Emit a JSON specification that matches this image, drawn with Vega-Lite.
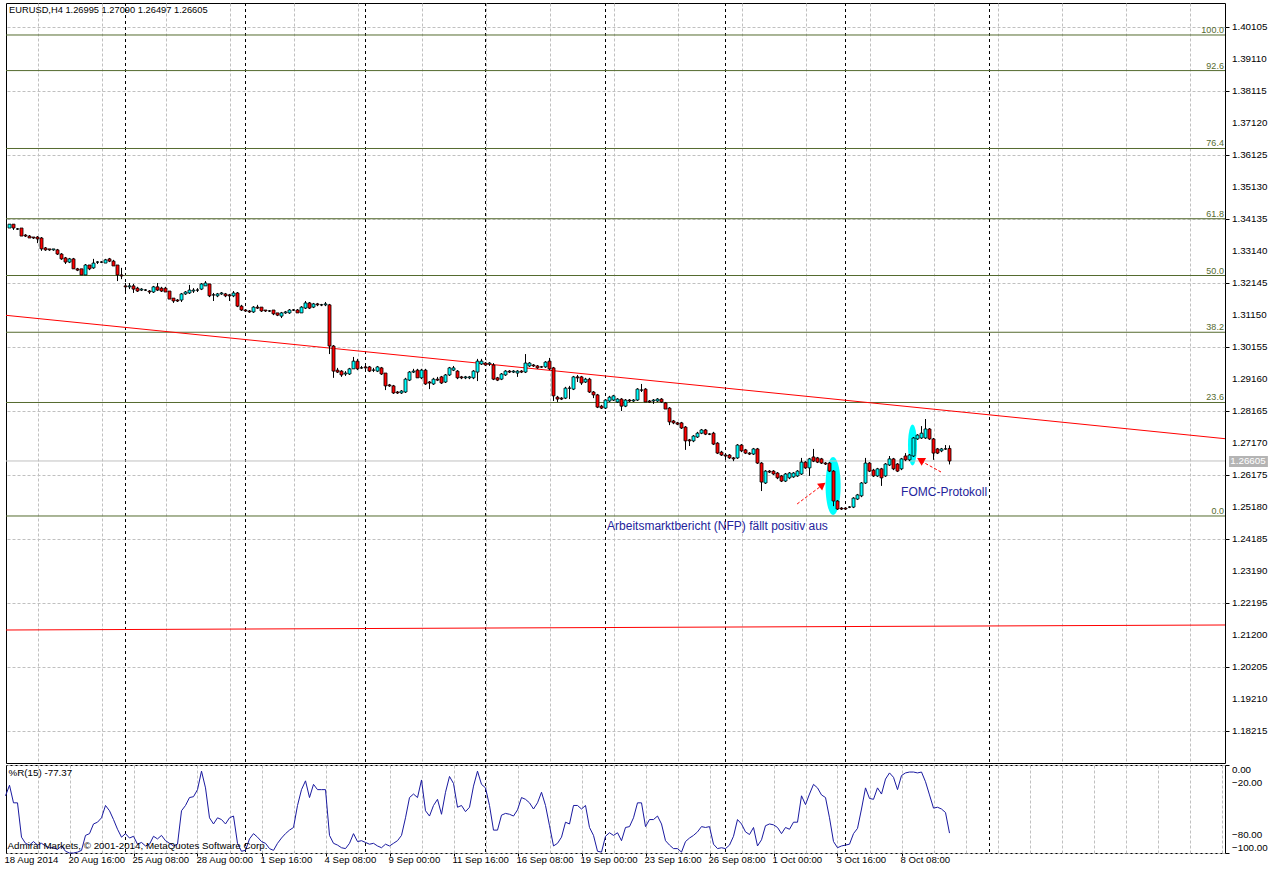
{
"$schema":"https://vega.github.io/schema/vega-lite/v6.json",
"background":"white",
"padding":{"left":3,"top":2,"right":0,"bottom":0},
"spacing":0,
"config":{
 "view":{"stroke":"#000000","strokeWidth":1},
 "font":"Liberation Sans",
 "axis":{"tickColor":"#000000","gridColor":"#c0c0c0","gridDash":[3,2],"domain":false,"labels":false}
},
"datasets":{
 "seps":[{"i":30},{"i":60},{"i":90},{"i":120},{"i":150},{"i":180},{"i":210},{"i":246}],
 "yt":[{"v":1.18215},{"v":1.19210},{"v":1.20205},{"v":1.21200},{"v":1.22195},{"v":1.23190},{"v":1.24185},{"v":1.25180},{"v":1.26175},{"v":1.27170},{"v":1.28165},{"v":1.29160},{"v":1.30155},{"v":1.31150},{"v":1.32145},{"v":1.33140},{"v":1.34135},{"v":1.35130},{"v":1.36125},{"v":1.37120},{"v":1.38115},{"v":1.39110},{"v":1.40105}],
 "xl":[{"i":0,"t":"18 Aug 2014"},{"i":16,"t":"20 Aug 16:00"},{"i":32,"t":"25 Aug 08:00"},{"i":48,"t":"28 Aug 00:00"},{"i":64,"t":"1 Sep 16:00"},{"i":80,"t":"4 Sep 08:00"},{"i":96,"t":"9 Sep 00:00"},{"i":112,"t":"11 Sep 16:00"},{"i":128,"t":"16 Sep 08:00"},{"i":144,"t":"19 Sep 00:00"},{"i":160,"t":"23 Sep 16:00"},{"i":176,"t":"26 Sep 08:00"},{"i":192,"t":"1 Oct 00:00"},{"i":208,"t":"3 Oct 16:00"},{"i":224,"t":"8 Oct 08:00"}],
 "fib":[{"lvl":"0.0","p":1.24894},{"lvl":"23.6","p":1.28424},{"lvl":"38.2","p":1.30608},{"lvl":"50.0","p":1.32373},{"lvl":"61.8","p":1.34139},{"lvl":"76.4","p":1.36323},{"lvl":"92.6","p":1.38746},{"lvl":"100.0","p":1.39853}],
 "candles":[
{"i":0,"o":1.3391,"h":1.3394,"l":1.3388,"c":1.3391},
{"i":1,"o":1.3385,"h":1.3397,"l":1.3385,"c":1.3397},
{"i":2,"o":1.3397,"h":1.3397,"l":1.3379,"c":1.3385},
{"i":3,"o":1.3382,"h":1.3385,"l":1.3379,"c":1.3382},
{"i":4,"o":1.3385,"h":1.3385,"l":1.3360,"c":1.3360},
{"i":5,"o":1.3363,"h":1.3366,"l":1.3357,"c":1.3360},
{"i":6,"o":1.3360,"h":1.3363,"l":1.3354,"c":1.3354},
{"i":7,"o":1.3357,"h":1.3357,"l":1.3351,"c":1.3354},
{"i":8,"o":1.3357,"h":1.3360,"l":1.3338,"c":1.3351},
{"i":9,"o":1.3354,"h":1.3357,"l":1.3314,"c":1.3320},
{"i":10,"o":1.3323,"h":1.3326,"l":1.3314,"c":1.3317},
{"i":11,"o":1.3320,"h":1.3320,"l":1.3314,"c":1.3317},
{"i":12,"o":1.3317,"h":1.3320,"l":1.3314,"c":1.3320},
{"i":13,"o":1.3317,"h":1.3320,"l":1.3301,"c":1.3304},
{"i":14,"o":1.3304,"h":1.3307,"l":1.3286,"c":1.3289},
{"i":15,"o":1.3292,"h":1.3295,"l":1.3273,"c":1.3279},
{"i":16,"o":1.3279,"h":1.3292,"l":1.3276,"c":1.3289},
{"i":17,"o":1.3289,"h":1.3292,"l":1.3258,"c":1.3258},
{"i":18,"o":1.3258,"h":1.3261,"l":1.3251,"c":1.3254},
{"i":19,"o":1.3258,"h":1.3258,"l":1.3239,"c":1.3239},
{"i":20,"o":1.3239,"h":1.3273,"l":1.3239,"c":1.3270},
{"i":21,"o":1.3270,"h":1.3270,"l":1.3254,"c":1.3258},
{"i":22,"o":1.3261,"h":1.3289,"l":1.3258,"c":1.3276},
{"i":23,"o":1.3279,"h":1.3282,"l":1.3273,"c":1.3279},
{"i":24,"o":1.3279,"h":1.3282,"l":1.3276,"c":1.3279},
{"i":25,"o":1.3276,"h":1.3289,"l":1.3276,"c":1.3286},
{"i":26,"o":1.3289,"h":1.3292,"l":1.3279,"c":1.3282},
{"i":27,"o":1.3282,"h":1.3286,"l":1.3267,"c":1.3267},
{"i":28,"o":1.3270,"h":1.3270,"l":1.3220,"c":1.3239},
{"i":29,"o":1.3239,"h":1.3261,"l":1.3226,"c":1.3236},
{"i":30,"o":1.3205,"h":1.3214,"l":1.3183,"c":1.3202},
{"i":31,"o":1.3202,"h":1.3214,"l":1.3195,"c":1.3205},
{"i":32,"o":1.3205,"h":1.3211,"l":1.3183,"c":1.3195},
{"i":33,"o":1.3198,"h":1.3202,"l":1.3186,"c":1.3189},
{"i":34,"o":1.3192,"h":1.3198,"l":1.3189,"c":1.3195},
{"i":35,"o":1.3192,"h":1.3195,"l":1.3189,"c":1.3192},
{"i":36,"o":1.3189,"h":1.3192,"l":1.3180,"c":1.3186},
{"i":37,"o":1.3186,"h":1.3205,"l":1.3183,"c":1.3202},
{"i":38,"o":1.3202,"h":1.3214,"l":1.3189,"c":1.3192},
{"i":39,"o":1.3198,"h":1.3202,"l":1.3186,"c":1.3189},
{"i":40,"o":1.3198,"h":1.3202,"l":1.3186,"c":1.3186},
{"i":41,"o":1.3189,"h":1.3189,"l":1.3164,"c":1.3164},
{"i":42,"o":1.3167,"h":1.3167,"l":1.3152,"c":1.3158},
{"i":43,"o":1.3161,"h":1.3164,"l":1.3155,"c":1.3158},
{"i":44,"o":1.3161,"h":1.3183,"l":1.3155,"c":1.3180},
{"i":45,"o":1.3180,"h":1.3189,"l":1.3177,"c":1.3186},
{"i":46,"o":1.3183,"h":1.3208,"l":1.3180,"c":1.3192},
{"i":47,"o":1.3189,"h":1.3198,"l":1.3183,"c":1.3192},
{"i":48,"o":1.3192,"h":1.3198,"l":1.3186,"c":1.3192},
{"i":49,"o":1.3195,"h":1.3214,"l":1.3192,"c":1.3211},
{"i":50,"o":1.3205,"h":1.3220,"l":1.3205,"c":1.3214},
{"i":51,"o":1.3211,"h":1.3211,"l":1.3170,"c":1.3174},
{"i":52,"o":1.3177,"h":1.3183,"l":1.3158,"c":1.3177},
{"i":53,"o":1.3174,"h":1.3183,"l":1.3170,"c":1.3180},
{"i":54,"o":1.3180,"h":1.3186,"l":1.3177,"c":1.3183},
{"i":55,"o":1.3180,"h":1.3183,"l":1.3170,"c":1.3174},
{"i":56,"o":1.3177,"h":1.3180,"l":1.3158,"c":1.3174},
{"i":57,"o":1.3174,"h":1.3189,"l":1.3170,"c":1.3183},
{"i":58,"o":1.3183,"h":1.3186,"l":1.3139,"c":1.3142},
{"i":59,"o":1.3142,"h":1.3146,"l":1.3127,"c":1.3130},
{"i":60,"o":1.3130,"h":1.3133,"l":1.3124,"c":1.3127},
{"i":61,"o":1.3127,"h":1.3130,"l":1.3121,"c":1.3124},
{"i":62,"o":1.3124,"h":1.3142,"l":1.3121,"c":1.3139},
{"i":63,"o":1.3139,"h":1.3146,"l":1.3133,"c":1.3136},
{"i":64,"o":1.3139,"h":1.3139,"l":1.3124,"c":1.3127},
{"i":65,"o":1.3130,"h":1.3130,"l":1.3124,"c":1.3127},
{"i":66,"o":1.3127,"h":1.3130,"l":1.3124,"c":1.3127},
{"i":67,"o":1.3130,"h":1.3130,"l":1.3114,"c":1.3118},
{"i":68,"o":1.3121,"h":1.3121,"l":1.3111,"c":1.3114},
{"i":69,"o":1.3111,"h":1.3124,"l":1.3105,"c":1.3121},
{"i":70,"o":1.3121,"h":1.3127,"l":1.3118,"c":1.3124},
{"i":71,"o":1.3121,"h":1.3133,"l":1.3118,"c":1.3130},
{"i":72,"o":1.3130,"h":1.3133,"l":1.3127,"c":1.3130},
{"i":73,"o":1.3130,"h":1.3133,"l":1.3121,"c":1.3121},
{"i":74,"o":1.3121,"h":1.3142,"l":1.3121,"c":1.3139},
{"i":75,"o":1.3136,"h":1.3158,"l":1.3133,"c":1.3152},
{"i":76,"o":1.3152,"h":1.3155,"l":1.3133,"c":1.3136},
{"i":77,"o":1.3139,"h":1.3152,"l":1.3136,"c":1.3149},
{"i":78,"o":1.3149,"h":1.3152,"l":1.3142,"c":1.3146},
{"i":79,"o":1.3146,"h":1.3149,"l":1.3142,"c":1.3146},
{"i":80,"o":1.3146,"h":1.3155,"l":1.3142,"c":1.3149},
{"i":81,"o":1.3146,"h":1.3149,"l":1.2993,"c":1.3018},
{"i":82,"o":1.3018,"h":1.3021,"l":1.2919,"c":1.2940},
{"i":83,"o":1.2943,"h":1.2950,"l":1.2934,"c":1.2937},
{"i":84,"o":1.2940,"h":1.2943,"l":1.2922,"c":1.2928},
{"i":85,"o":1.2931,"h":1.2940,"l":1.2925,"c":1.2934},
{"i":86,"o":1.2931,"h":1.2950,"l":1.2928,"c":1.2947},
{"i":87,"o":1.2947,"h":1.2984,"l":1.2947,"c":1.2971},
{"i":88,"o":1.2971,"h":1.2978,"l":1.2943,"c":1.2947},
{"i":89,"o":1.2950,"h":1.2956,"l":1.2947,"c":1.2950},
{"i":90,"o":1.2953,"h":1.2956,"l":1.2947,"c":1.2950},
{"i":91,"o":1.2953,"h":1.2956,"l":1.2937,"c":1.2940},
{"i":92,"o":1.2943,"h":1.2950,"l":1.2937,"c":1.2943},
{"i":93,"o":1.2940,"h":1.2956,"l":1.2937,"c":1.2953},
{"i":94,"o":1.2950,"h":1.2953,"l":1.2928,"c":1.2931},
{"i":95,"o":1.2934,"h":1.2934,"l":1.2881,"c":1.2894},
{"i":96,"o":1.2897,"h":1.2900,"l":1.2891,"c":1.2894},
{"i":97,"o":1.2894,"h":1.2897,"l":1.2869,"c":1.2872},
{"i":98,"o":1.2875,"h":1.2878,"l":1.2869,"c":1.2872},
{"i":99,"o":1.2872,"h":1.2881,"l":1.2869,"c":1.2878},
{"i":100,"o":1.2875,"h":1.2919,"l":1.2872,"c":1.2915},
{"i":101,"o":1.2912,"h":1.2940,"l":1.2909,"c":1.2937},
{"i":102,"o":1.2937,"h":1.2947,"l":1.2934,"c":1.2940},
{"i":103,"o":1.2943,"h":1.2947,"l":1.2919,"c":1.2919},
{"i":104,"o":1.2919,"h":1.2947,"l":1.2915,"c":1.2943},
{"i":105,"o":1.2943,"h":1.2947,"l":1.2897,"c":1.2900},
{"i":106,"o":1.2906,"h":1.2909,"l":1.2884,"c":1.2903},
{"i":107,"o":1.2900,"h":1.2919,"l":1.2897,"c":1.2915},
{"i":108,"o":1.2915,"h":1.2922,"l":1.2909,"c":1.2912},
{"i":109,"o":1.2922,"h":1.2925,"l":1.2900,"c":1.2903},
{"i":110,"o":1.2906,"h":1.2931,"l":1.2903,"c":1.2928},
{"i":111,"o":1.2928,"h":1.2953,"l":1.2925,"c":1.2950},
{"i":112,"o":1.2943,"h":1.2956,"l":1.2940,"c":1.2950},
{"i":113,"o":1.2940,"h":1.2943,"l":1.2915,"c":1.2919},
{"i":114,"o":1.2922,"h":1.2925,"l":1.2915,"c":1.2919},
{"i":115,"o":1.2919,"h":1.2925,"l":1.2915,"c":1.2922},
{"i":116,"o":1.2919,"h":1.2925,"l":1.2915,"c":1.2922},
{"i":117,"o":1.2919,"h":1.2943,"l":1.2915,"c":1.2940},
{"i":118,"o":1.2937,"h":1.2978,"l":1.2909,"c":1.2971},
{"i":119,"o":1.2962,"h":1.2978,"l":1.2959,"c":1.2971},
{"i":120,"o":1.2965,"h":1.2968,"l":1.2956,"c":1.2959},
{"i":121,"o":1.2962,"h":1.2968,"l":1.2956,"c":1.2965},
{"i":122,"o":1.2959,"h":1.2965,"l":1.2912,"c":1.2915},
{"i":123,"o":1.2919,"h":1.2922,"l":1.2909,"c":1.2912},
{"i":124,"o":1.2915,"h":1.2934,"l":1.2912,"c":1.2931},
{"i":125,"o":1.2928,"h":1.2943,"l":1.2925,"c":1.2940},
{"i":126,"o":1.2940,"h":1.2943,"l":1.2934,"c":1.2937},
{"i":127,"o":1.2937,"h":1.2943,"l":1.2934,"c":1.2940},
{"i":128,"o":1.2934,"h":1.2943,"l":1.2922,"c":1.2940},
{"i":129,"o":1.2940,"h":1.2943,"l":1.2934,"c":1.2937},
{"i":130,"o":1.2937,"h":1.2993,"l":1.2934,"c":1.2965},
{"i":131,"o":1.2956,"h":1.2968,"l":1.2953,"c":1.2965},
{"i":132,"o":1.2959,"h":1.2962,"l":1.2953,"c":1.2956},
{"i":133,"o":1.2956,"h":1.2959,"l":1.2947,"c":1.2950},
{"i":134,"o":1.2953,"h":1.2956,"l":1.2950,"c":1.2953},
{"i":135,"o":1.2953,"h":1.2971,"l":1.2950,"c":1.2968},
{"i":136,"o":1.2971,"h":1.2981,"l":1.2943,"c":1.2947},
{"i":137,"o":1.2950,"h":1.2953,"l":1.2847,"c":1.2863},
{"i":138,"o":1.2859,"h":1.2863,"l":1.2844,"c":1.2853},
{"i":139,"o":1.2856,"h":1.2859,"l":1.2850,"c":1.2853},
{"i":140,"o":1.2856,"h":1.2891,"l":1.2853,"c":1.2887},
{"i":141,"o":1.2887,"h":1.2894,"l":1.2853,"c":1.2887},
{"i":142,"o":1.2884,"h":1.2925,"l":1.2881,"c":1.2922},
{"i":143,"o":1.2922,"h":1.2928,"l":1.2906,"c":1.2919},
{"i":144,"o":1.2922,"h":1.2925,"l":1.2897,"c":1.2903},
{"i":145,"o":1.2906,"h":1.2919,"l":1.2903,"c":1.2915},
{"i":146,"o":1.2915,"h":1.2919,"l":1.2872,"c":1.2875},
{"i":147,"o":1.2875,"h":1.2878,"l":1.2856,"c":1.2866},
{"i":148,"o":1.2866,"h":1.2869,"l":1.2825,"c":1.2828},
{"i":149,"o":1.2831,"h":1.2835,"l":1.2822,"c":1.2825},
{"i":150,"o":1.2825,"h":1.2853,"l":1.2822,"c":1.2850},
{"i":151,"o":1.2847,"h":1.2863,"l":1.2844,"c":1.2859},
{"i":152,"o":1.2850,"h":1.2866,"l":1.2847,"c":1.2863},
{"i":153,"o":1.2844,"h":1.2856,"l":1.2841,"c":1.2853},
{"i":154,"o":1.2853,"h":1.2856,"l":1.2816,"c":1.2831},
{"i":155,"o":1.2831,"h":1.2853,"l":1.2828,"c":1.2850},
{"i":156,"o":1.2850,"h":1.2853,"l":1.2844,"c":1.2847},
{"i":157,"o":1.2847,"h":1.2853,"l":1.2844,"c":1.2850},
{"i":158,"o":1.2850,"h":1.2887,"l":1.2847,"c":1.2884},
{"i":159,"o":1.2881,"h":1.2900,"l":1.2875,"c":1.2881},
{"i":160,"o":1.2884,"h":1.2887,"l":1.2844,"c":1.2844},
{"i":161,"o":1.2847,"h":1.2850,"l":1.2841,"c":1.2844},
{"i":162,"o":1.2847,"h":1.2853,"l":1.2838,"c":1.2850},
{"i":163,"o":1.2847,"h":1.2856,"l":1.2844,"c":1.2853},
{"i":164,"o":1.2853,"h":1.2856,"l":1.2841,"c":1.2844},
{"i":165,"o":1.2841,"h":1.2844,"l":1.2822,"c":1.2822},
{"i":166,"o":1.2825,"h":1.2828,"l":1.2772,"c":1.2782},
{"i":167,"o":1.2785,"h":1.2788,"l":1.2775,"c":1.2779},
{"i":168,"o":1.2779,"h":1.2782,"l":1.2772,"c":1.2775},
{"i":169,"o":1.2779,"h":1.2782,"l":1.2760,"c":1.2763},
{"i":170,"o":1.2766,"h":1.2769,"l":1.2695,"c":1.2723},
{"i":171,"o":1.2726,"h":1.2729,"l":1.2707,"c":1.2723},
{"i":172,"o":1.2723,"h":1.2741,"l":1.2719,"c":1.2738},
{"i":173,"o":1.2735,"h":1.2751,"l":1.2732,"c":1.2747},
{"i":174,"o":1.2747,"h":1.2760,"l":1.2744,"c":1.2757},
{"i":175,"o":1.2757,"h":1.2760,"l":1.2741,"c":1.2744},
{"i":176,"o":1.2744,"h":1.2747,"l":1.2741,"c":1.2744},
{"i":177,"o":1.2747,"h":1.2751,"l":1.2710,"c":1.2713},
{"i":178,"o":1.2716,"h":1.2719,"l":1.2682,"c":1.2685},
{"i":179,"o":1.2688,"h":1.2692,"l":1.2676,"c":1.2679},
{"i":180,"o":1.2679,"h":1.2682,"l":1.2664,"c":1.2676},
{"i":181,"o":1.2679,"h":1.2682,"l":1.2667,"c":1.2670},
{"i":182,"o":1.2670,"h":1.2673,"l":1.2660,"c":1.2667},
{"i":183,"o":1.2670,"h":1.2713,"l":1.2667,"c":1.2710},
{"i":184,"o":1.2710,"h":1.2713,"l":1.2688,"c":1.2692},
{"i":185,"o":1.2695,"h":1.2698,"l":1.2682,"c":1.2685},
{"i":186,"o":1.2685,"h":1.2688,"l":1.2679,"c":1.2682},
{"i":187,"o":1.2682,"h":1.2701,"l":1.2679,"c":1.2698},
{"i":188,"o":1.2698,"h":1.2701,"l":1.2651,"c":1.2654},
{"i":189,"o":1.2654,"h":1.2657,"l":1.2567,"c":1.2595},
{"i":190,"o":1.2592,"h":1.2632,"l":1.2589,"c":1.2629},
{"i":191,"o":1.2629,"h":1.2632,"l":1.2623,"c":1.2626},
{"i":192,"o":1.2629,"h":1.2632,"l":1.2617,"c":1.2620},
{"i":193,"o":1.2623,"h":1.2626,"l":1.2604,"c":1.2608},
{"i":194,"o":1.2614,"h":1.2617,"l":1.2595,"c":1.2598},
{"i":195,"o":1.2598,"h":1.2623,"l":1.2595,"c":1.2620},
{"i":196,"o":1.2608,"h":1.2626,"l":1.2604,"c":1.2623},
{"i":197,"o":1.2611,"h":1.2626,"l":1.2608,"c":1.2623},
{"i":198,"o":1.2614,"h":1.2632,"l":1.2611,"c":1.2629},
{"i":199,"o":1.2620,"h":1.2670,"l":1.2617,"c":1.2657},
{"i":200,"o":1.2657,"h":1.2660,"l":1.2636,"c":1.2639},
{"i":201,"o":1.2639,"h":1.2670,"l":1.2614,"c":1.2667},
{"i":202,"o":1.2673,"h":1.2698,"l":1.2657,"c":1.2660},
{"i":203,"o":1.2670,"h":1.2673,"l":1.2654,"c":1.2657},
{"i":204,"o":1.2667,"h":1.2670,"l":1.2651,"c":1.2654},
{"i":205,"o":1.2654,"h":1.2657,"l":1.2648,"c":1.2651},
{"i":206,"o":1.2654,"h":1.2657,"l":1.2626,"c":1.2629},
{"i":207,"o":1.2629,"h":1.2632,"l":1.2520,"c":1.2536},
{"i":208,"o":1.2536,"h":1.2539,"l":1.2508,"c":1.2511},
{"i":209,"o":1.2514,"h":1.2517,"l":1.2508,"c":1.2511},
{"i":210,"o":1.2514,"h":1.2517,"l":1.2508,"c":1.2511},
{"i":211,"o":1.2517,"h":1.2520,"l":1.2514,"c":1.2517},
{"i":212,"o":1.2517,"h":1.2548,"l":1.2514,"c":1.2545},
{"i":213,"o":1.2542,"h":1.2558,"l":1.2539,"c":1.2555},
{"i":214,"o":1.2552,"h":1.2595,"l":1.2548,"c":1.2592},
{"i":215,"o":1.2592,"h":1.2670,"l":1.2589,"c":1.2654},
{"i":216,"o":1.2654,"h":1.2657,"l":1.2626,"c":1.2629},
{"i":217,"o":1.2632,"h":1.2636,"l":1.2611,"c":1.2614},
{"i":218,"o":1.2614,"h":1.2639,"l":1.2611,"c":1.2636},
{"i":219,"o":1.2636,"h":1.2639,"l":1.2583,"c":1.2608},
{"i":220,"o":1.2614,"h":1.2654,"l":1.2611,"c":1.2651},
{"i":221,"o":1.2648,"h":1.2676,"l":1.2645,"c":1.2667},
{"i":222,"o":1.2667,"h":1.2670,"l":1.2632,"c":1.2636},
{"i":223,"o":1.2651,"h":1.2654,"l":1.2626,"c":1.2629},
{"i":224,"o":1.2636,"h":1.2670,"l":1.2632,"c":1.2667},
{"i":225,"o":1.2676,"h":1.2685,"l":1.2660,"c":1.2664},
{"i":226,"o":1.2664,"h":1.2682,"l":1.2660,"c":1.2679},
{"i":227,"o":1.2676,"h":1.2735,"l":1.2673,"c":1.2732},
{"i":228,"o":1.2729,"h":1.2744,"l":1.2726,"c":1.2741},
{"i":229,"o":1.2732,"h":1.2769,"l":1.2729,"c":1.2747},
{"i":230,"o":1.2732,"h":1.2791,"l":1.2729,"c":1.2760},
{"i":231,"o":1.2760,"h":1.2763,"l":1.2726,"c":1.2729},
{"i":232,"o":1.2729,"h":1.2732,"l":1.2664,"c":1.2685},
{"i":233,"o":1.2698,"h":1.2701,"l":1.2682,"c":1.2685},
{"i":234,"o":1.2692,"h":1.2701,"l":1.2688,"c":1.2698},
{"i":235,"o":1.2698,"h":1.2710,"l":1.2695,"c":1.2698},
{"i":236,"o":1.26995,"h":1.2709,"l":1.26497,"c":1.26605}
 ],
 "wpr":[
{"i":0,"r":-35},{"i":1,"r":-23},{"i":2,"r":-43},{"i":3,"r":-43},{"i":4,"r":-82},{"i":5,"r":-89},{"i":6,"r":-91},{"i":7,"r":-87},{"i":8,"r":-91},{"i":9,"r":-89},
{"i":10,"r":-92},{"i":11,"r":-94},{"i":12,"r":-94},{"i":13,"r":-96},{"i":14,"r":-92},{"i":15,"r":-98},{"i":16,"r":-100},{"i":17,"r":-100},{"i":18,"r":-99},{"i":19,"r":-97},
{"i":20,"r":-80},{"i":21,"r":-78},{"i":22,"r":-67},{"i":23,"r":-65},{"i":24,"r":-60},{"i":25,"r":-46},{"i":26,"r":-52},{"i":27,"r":-62},{"i":28,"r":-73},{"i":29,"r":-82},
{"i":30,"r":-78},{"i":31,"r":-83},{"i":32,"r":-81},{"i":33,"r":-90},{"i":34,"r":-88},{"i":35,"r":-92},{"i":36,"r":-90},{"i":37,"r":-81},{"i":38,"r":-84},{"i":39,"r":-80},
{"i":40,"r":-86},{"i":41,"r":-89},{"i":42,"r":-92},{"i":43,"r":-90},{"i":44,"r":-52},{"i":45,"r":-46},{"i":46,"r":-37},{"i":47,"r":-36},{"i":48,"r":-28},{"i":49,"r":-7},
{"i":50,"r":-26},{"i":51,"r":-60},{"i":52,"r":-67},{"i":53,"r":-60},{"i":54,"r":-62},{"i":55,"r":-67},{"i":56,"r":-60},{"i":57,"r":-58},{"i":58,"r":-89},{"i":59,"r":-98},
{"i":60,"r":-97},{"i":61,"r":-84},{"i":62,"r":-78},{"i":63,"r":-82},{"i":64,"r":-87},{"i":65,"r":-89},{"i":66,"r":-95},{"i":67,"r":-97},{"i":68,"r":-89},{"i":69,"r":-83},
{"i":70,"r":-78},{"i":71,"r":-74},{"i":72,"r":-71},{"i":73,"r":-46},{"i":74,"r":-28},{"i":75,"r":-18},{"i":76,"r":-37},{"i":77,"r":-22},{"i":78,"r":-28},{"i":79,"r":-28},
{"i":80,"r":-28},{"i":81,"r":-80},{"i":82,"r":-89},{"i":83,"r":-91},{"i":84,"r":-94},{"i":85,"r":-95},{"i":86,"r":-89},{"i":87,"r":-78},{"i":88,"r":-87},{"i":89,"r":-86},
{"i":90,"r":-88},{"i":91,"r":-90},{"i":92,"r":-89},{"i":93,"r":-92},{"i":94,"r":-94},{"i":95,"r":-90},{"i":96,"r":-92},{"i":97,"r":-89},{"i":98,"r":-86},{"i":99,"r":-80},
{"i":100,"r":-60},{"i":101,"r":-37},{"i":102,"r":-33},{"i":103,"r":-37},{"i":104,"r":-17},{"i":105,"r":-52},{"i":106,"r":-58},{"i":107,"r":-46},{"i":108,"r":-39},{"i":109,"r":-56},
{"i":110,"r":-31},{"i":111,"r":-13},{"i":112,"r":-21},{"i":113,"r":-48},{"i":114,"r":-46},{"i":115,"r":-53},{"i":116,"r":-48},{"i":117,"r":-24},{"i":118,"r":-7},{"i":119,"r":-22},
{"i":120,"r":-26},{"i":121,"r":-46},{"i":122,"r":-74},{"i":123,"r":-74},{"i":124,"r":-57},{"i":125,"r":-55},{"i":126,"r":-56},{"i":127,"r":-58},{"i":128,"r":-51},{"i":129,"r":-37},
{"i":130,"r":-39},{"i":131,"r":-43},{"i":132,"r":-50},{"i":133,"r":-43},{"i":134,"r":-31},{"i":135,"r":-46},{"i":136,"r":-69},{"i":137,"r":-92},{"i":138,"r":-89},{"i":139,"r":-82},
{"i":140,"r":-65},{"i":141,"r":-67},{"i":142,"r":-46},{"i":143,"r":-46},{"i":144,"r":-50},{"i":145,"r":-46},{"i":146,"r":-71},{"i":147,"r":-80},{"i":148,"r":-98},{"i":149,"r":-99},
{"i":150,"r":-81},{"i":151,"r":-77},{"i":152,"r":-80},{"i":153,"r":-77},{"i":154,"r":-86},{"i":155,"r":-71},{"i":156,"r":-70},{"i":157,"r":-60},{"i":158,"r":-43},{"i":159,"r":-43},
{"i":160,"r":-70},{"i":161,"r":-62},{"i":162,"r":-62},{"i":163,"r":-58},{"i":164,"r":-67},{"i":165,"r":-86},{"i":166,"r":-91},{"i":167,"r":-95},{"i":168,"r":-95},{"i":169,"r":-99},
{"i":170,"r":-87},{"i":171,"r":-83},{"i":172,"r":-80},{"i":173,"r":-76},{"i":174,"r":-70},{"i":175,"r":-71},{"i":176,"r":-70},{"i":177,"r":-90},{"i":178,"r":-95},{"i":179,"r":-94},
{"i":180,"r":-95},{"i":181,"r":-91},{"i":182,"r":-81},{"i":183,"r":-62},{"i":184,"r":-67},{"i":185,"r":-76},{"i":186,"r":-79},{"i":187,"r":-71},{"i":188,"r":-92},{"i":189,"r":-85},
{"i":190,"r":-69},{"i":191,"r":-67},{"i":192,"r":-68},{"i":193,"r":-71},{"i":194,"r":-78},{"i":195,"r":-71},{"i":196,"r":-73},{"i":197,"r":-65},{"i":198,"r":-65},{"i":199,"r":-35},
{"i":200,"r":-45},{"i":201,"r":-33},{"i":202,"r":-22},{"i":203,"r":-26},{"i":204,"r":-34},{"i":205,"r":-37},{"i":206,"r":-60},{"i":207,"r":-87},{"i":208,"r":-94},{"i":209,"r":-92},
{"i":210,"r":-91},{"i":211,"r":-90},{"i":212,"r":-78},{"i":213,"r":-72},{"i":214,"r":-50},{"i":215,"r":-26},{"i":216,"r":-38},{"i":217,"r":-39},{"i":218,"r":-26},{"i":219,"r":-33},
{"i":220,"r":-16},{"i":221,"r":-9},{"i":222,"r":-14},{"i":223,"r":-28},{"i":224,"r":-12},{"i":225,"r":-9},{"i":226,"r":-8},{"i":227,"r":-8},{"i":228,"r":-9},{"i":229,"r":-8},
{"i":230,"r":-19},{"i":231,"r":-34},{"i":232,"r":-49},{"i":233,"r":-48},{"i":234,"r":-50},{"i":235,"r":-54},{"i":236,"r":-77.37}
 ]
},
"vconcat":[
{
 "width":1219,"height":760,
 "layer":[
  {"data":{"name":"seps"},
   "mark":{"type":"rule","color":"#000000","strokeDash":[3,3],"strokeWidth":1},
   "encoding":{"x":{"field":"i","type":"quantitative","title":null,
     "scale":{"domain":[0.125,304.875],"nice":false,"zero":false,"padding":0},
     "axis":{"orient":"bottom","values":[8,16,24,32,40,48,56,64,72,80,88,96,104,112,120,128,136,144,152,160,168,176,184,192,200,208,216,224,232,240,248,256,264,272,280,288,296,304],"grid":true,"labels":false,"ticks":false,"domain":false,"minExtent":0,"maxExtent":0}}}},
  {"data":{"name":"fib"},
   "mark":{"type":"rule","color":"#556b2f","strokeWidth":1},
   "encoding":{"y":{"field":"p","type":"quantitative","title":null,
     "scale":{"domain":[1.17212,1.40848],"nice":false,"zero":false},
     "axis":{"orient":"right","values":[1.18215,1.1921,1.20205,1.212,1.22195,1.2319,1.24185,1.2518,1.26175,1.2717,1.28165,1.2916,1.30155,1.3115,1.32145,1.3314,1.34135,1.3513,1.36125,1.3712,1.38115,1.3911,1.40105],"grid":true,"labels":false,"ticks":true,"tickSize":4}}}},
  {"data":{"values":[{}]},
   "mark":{"type":"point","shape":"M0,-1C0.1436,-1 0.26,-0.5523 0.26,0C0.26,0.5523 0.1436,1 0,1C-0.1436,1 -0.26,0.5523 -0.26,0C-0.26,-0.5523 -0.1436,-1 0,-1Z","size":3364,"filled":true,"fill":"#00ffff","opacity":1,"strokeWidth":0},
   "encoding":{"x":{"datum":206.9,"type":"quantitative"},"y":{"datum":1.25827,"type":"quantitative"}}},
  {"data":{"values":[{}]},
   "mark":{"type":"point","shape":"M0,-1C0.1212,-1 0.2195,-0.5523 0.2195,0C0.2195,0.5523 0.1212,1 0,1C-0.1212,1 -0.2195,0.5523 -0.2195,0C-0.2195,-0.5523 -0.1212,-1 0,-1Z","size":1681,"filled":true,"fill":"#00ffff","opacity":1,"strokeWidth":0},
   "encoding":{"x":{"datum":226.75,"type":"quantitative"},"y":{"datum":1.27102,"type":"quantitative"}}},
  {"data":{"values":[{"i":0.125,"p":1.31135},{"i":304.875,"p":1.27298}]},
   "mark":{"type":"line","color":"#ff0000","strokeWidth":1,"clip":true},
   "encoding":{"x":{"field":"i","type":"quantitative","title":null},"y":{"field":"p","type":"quantitative","title":null}}},
  {"data":{"values":[{"i":0.125,"p":1.21348},{"i":304.875,"p":1.21504}]},
   "mark":{"type":"line","color":"#ff0000","strokeWidth":1,"clip":true},
   "encoding":{"x":{"field":"i","type":"quantitative","title":null},"y":{"field":"p","type":"quantitative","title":null}}},
  {"data":{"values":[{}]},
   "mark":{"type":"rule","color":"#c0c0c0","strokeWidth":1},
   "encoding":{"y":{"datum":1.26605,"type":"quantitative"}}},
  {"data":{"name":"candles"},
   "mark":{"type":"rule","color":"#000000","strokeWidth":1,"clip":true},
   "encoding":{"x":{"field":"i","type":"quantitative","title":null},"y":{"field":"l","type":"quantitative","title":null},"y2":{"field":"h"}}},
  {"data":{"name":"candles"},
   "mark":{"type":"bar","width":3,"stroke":"#000000","strokeWidth":0.8,"clip":true},
   "encoding":{"x":{"field":"i","type":"quantitative","title":null},"y":{"field":"o","type":"quantitative","title":null},"y2":{"field":"c"},
     "fill":{"condition":{"test":"datum.c > datum.o","value":"#00ffff"},"value":"#ff0000"}}},
  {"data":{"name":"fib"},
   "mark":{"type":"text","align":"right","baseline":"alphabetic","dy":-2,"fontSize":9,"color":"#556b2f","font":"Liberation Sans"},
   "encoding":{"x":{"datum":304.6,"type":"quantitative"},"y":{"field":"p","type":"quantitative","title":null},"text":{"field":"lvl"}}},
  {"data":{"name":"yt"},
   "mark":{"type":"text","align":"left","baseline":"middle","dx":7,"fontSize":9.8,"color":"#000000","font":"Liberation Sans"},
   "encoding":{"x":{"datum":304.875,"type":"quantitative"},"y":{"field":"v","type":"quantitative","title":null},"text":{"field":"v","type":"quantitative","format":".5f"}}},
  {"data":{"values":[{}]},
   "mark":{"type":"text","align":"left","baseline":"middle","fontSize":9.3,"color":"#000000","font":"Liberation Sans"},
   "encoding":{"x":{"datum":0.9,"type":"quantitative"},"y":{"datum":1.4063,"type":"quantitative"},"text":{"value":"EURUSD,H4  1.26995 1.27090 1.26497 1.26605"}}},
  {"data":{"values":[{}]},
   "mark":{"type":"text","align":"left","baseline":"middle","fontSize":12,"color":"#24249c","font":"Liberation Sans"},
   "encoding":{"x":{"datum":150.4,"type":"quantitative"},"y":{"datum":1.24583,"type":"quantitative"},"text":{"value":"Arbeitsmarktbericht (NFP) fällt positiv aus"}}},
  {"data":{"values":[{}]},
   "mark":{"type":"text","align":"left","baseline":"middle","fontSize":12,"color":"#24249c","font":"Liberation Sans"},
   "encoding":{"x":{"datum":223.9,"type":"quantitative"},"y":{"datum":1.2564,"type":"quantitative"},"text":{"value":"FOMC-Protokoll"}}},
  {"data":{"values":[{"a":"n","i":197.9,"p":1.25267},{"a":"n","i":203.9,"p":1.25826},{"a":"f","i":233.875,"p":1.26262},{"a":"f","i":228.875,"p":1.26604}]},
   "mark":{"type":"line","color":"#ff0000","strokeWidth":1,"strokeDash":[3,2]},
   "encoding":{"x":{"field":"i","type":"quantitative","title":null},"y":{"field":"p","type":"quantitative","title":null},"detail":{"field":"a"}}},
  {"data":{"values":[{}]},
   "mark":{"type":"point","shape":"triangle-up","size":70,"filled":true,"fill":"#ff0000","opacity":1,"strokeWidth":0,"angle":53},
   "encoding":{"x":{"datum":204.25,"type":"quantitative"},"y":{"datum":1.25858,"type":"quantitative"}}},
  {"data":{"values":[{}]},
   "mark":{"type":"point","shape":"triangle-up","size":80,"filled":true,"fill":"#ff0000","opacity":1,"strokeWidth":0,"angle":300},
   "encoding":{"x":{"datum":228.75,"type":"quantitative"},"y":{"datum":1.26635,"type":"quantitative"}}},
  {"data":{"values":[{}]},
   "mark":{"type":"rect","color":"#b4b4b4"},
   "encoding":{"x":{"datum":305.9,"type":"quantitative"},"x2":{"datum":315.6},"y":{"datum":1.2676,"type":"quantitative"},"y2":{"datum":1.2642}}},
  {"data":{"values":[{}]},
   "mark":{"type":"text","align":"left","baseline":"middle","fontSize":9.8,"color":"#ffffff","font":"Liberation Sans"},
   "encoding":{"x":{"datum":306.2,"type":"quantitative"},"y":{"datum":1.26605,"type":"quantitative"},"text":{"value":"1.26605"}}}
 ]
},
{
 "width":1219,"height":88,
 "resolve":{"axis":{"x":"independent"}},
 "layer":[
  {"data":{"name":"seps"},
   "mark":{"type":"rule","color":"#000000","strokeDash":[3,3],"strokeWidth":1},
   "encoding":{"x":{"field":"i","type":"quantitative","title":null,
     "scale":{"domain":[0.125,304.875],"nice":false,"zero":false,"padding":0},
     "axis":{"orient":"bottom","values":[8,16,24,32,40,48,56,64,72,80,88,96,104,112,120,128,136,144,152,160,168,176,184,192,200,208,216,224,232,240,248,256,264,272,280,288,296,304],"grid":true,"labels":false,"ticks":false,"domain":false,"minExtent":0,"maxExtent":0}}}},
  {"data":{"name":"wpr"},
   "mark":{"type":"line","color":"#1a1aa0","strokeWidth":1},
   "encoding":{"x":{"field":"i","type":"quantitative","title":null,
       "axis":{"orient":"bottom","values":[0,16,32,48,64,80,96,112,128,144,160,176,192,208,224],"grid":false,"labels":false,"ticks":true,"tickSize":3,"domain":false}},
     "y":{"field":"r","type":"quantitative","title":null,
       "scale":{"domain":[-100,0],"nice":false,"zero":false},
       "axis":{"orient":"right","values":[0,-20,-80,-100],"grid":true,"labels":false,"ticks":true,"tickSize":4}}}},
  {"data":{"name":"xl"},
   "mark":{"type":"text","align":"left","baseline":"top","dx":-1,"dy":2,"fontSize":9.6,"color":"#000000","font":"Liberation Sans"},
   "encoding":{"x":{"field":"i","type":"quantitative","title":null,"axis":null},"y":{"datum":-100,"type":"quantitative"},"text":{"field":"t"}}},
  {"data":{"values":[{"v":0}]},
   "mark":{"type":"text","align":"left","baseline":"top","dx":7,"dy":0,"fontSize":9.8,"color":"#000000","font":"Liberation Sans"},
   "encoding":{"x":{"datum":304.875,"type":"quantitative","axis":null},"y":{"field":"v","type":"quantitative","title":null},"text":{"field":"v","type":"quantitative","format":".2f"}}},
  {"data":{"values":[{"v":-20},{"v":-80}]},
   "mark":{"type":"text","align":"left","baseline":"middle","dx":7,"fontSize":9.8,"color":"#000000","font":"Liberation Sans"},
   "encoding":{"x":{"datum":304.875,"type":"quantitative","axis":null},"y":{"field":"v","type":"quantitative","title":null},"text":{"field":"v","type":"quantitative","format":".2f"}}},
  {"data":{"values":[{"v":-100}]},
   "mark":{"type":"text","align":"left","baseline":"bottom","dx":7,"dy":0,"fontSize":9.8,"color":"#000000","font":"Liberation Sans"},
   "encoding":{"x":{"datum":304.875,"type":"quantitative","axis":null},"y":{"field":"v","type":"quantitative","title":null},"text":{"field":"v","type":"quantitative","format":".2f"}}},
  {"data":{"values":[{}]},
   "mark":{"type":"text","align":"left","baseline":"middle","fontSize":9.8,"color":"#000000","font":"Liberation Sans"},
   "encoding":{"x":{"datum":0.75,"type":"quantitative","axis":null},"y":{"datum":-9.1,"type":"quantitative"},"text":{"value":"%R(15) -77.37"}}},
  {"data":{"values":[{}]},
   "mark":{"type":"text","align":"left","baseline":"middle","fontSize":9.8,"color":"#000000","font":"Liberation Sans"},
   "encoding":{"x":{"datum":0.5,"type":"quantitative","axis":null},"y":{"datum":-92,"type":"quantitative"},"text":{"value":"Admiral Markets, © 2001-2014, MetaQuotes Software Corp."}}}
 ]
}
]
}
